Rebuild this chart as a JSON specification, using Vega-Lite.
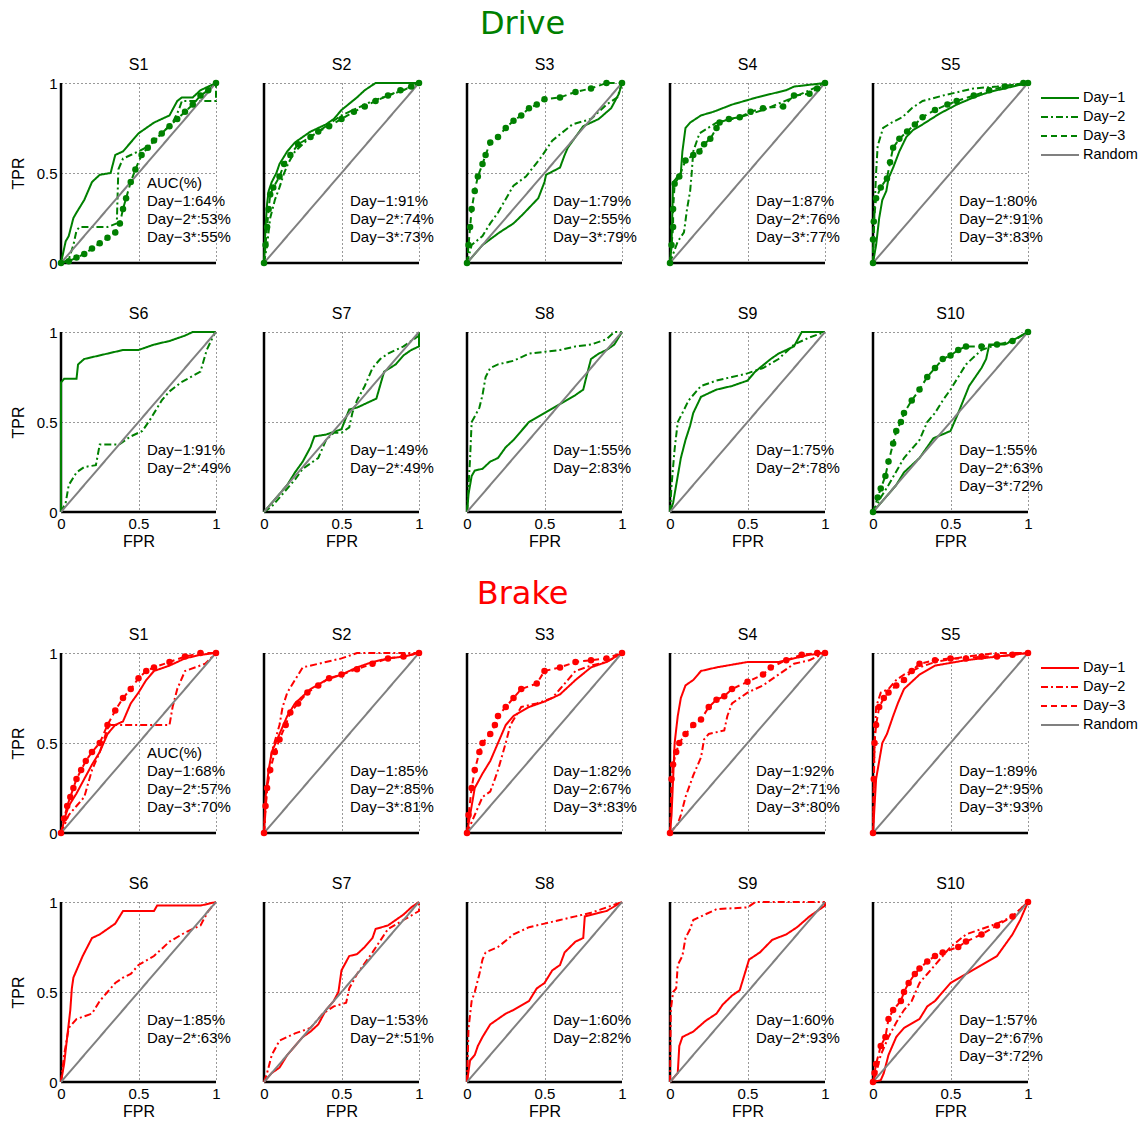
{
"padding": {"left": 10, "top": 8, "right": 5, "bottom": 5},
"config": {
  "font": "Liberation Sans",
  "view": {"stroke": null},
  "axis": {"grid": true, "gridDash": [1, 3], "gridColor": "#333", "gridWidth": 1, "domain": false, "ticks": false, "format": "~g", "labelFlush": false, "labelFontSize": 15, "labelFont": "Liberation Sans", "titleFont": "Liberation Sans", "titleFontSize": 16, "titleFontWeight": "normal", "labelColor": "#000", "titleColor": "#000", "labelPadding": 4},
  "axisY": {"titlePadding": 10},
  "axisX": {"titlePadding": 2},
  "header": {"labelFontSize": 16, "labelFont": "Liberation Sans", "labelColor": "#000"},
  "legend": {"symbolType": "stroke", "symbolSize": 1444, "symbolStrokeWidth": 2, "labelFontSize": 14.5, "labelFont": "Liberation Sans", "labelColor": "#000", "clipHeight": 16, "rowPadding": 3, "labelOffset": 3, "offset": -10, "padding": 7}
},
"resolve": {"scale": {"color": "independent", "strokeDash": "independent"}, "legend": {"color": "independent", "strokeDash": "independent"}},
"spacing": 29,
"datasets": {
"drive": [
{"p":"S1","d":"1","x":0,"y":0},{"p":"S1","d":"1","x":0.03,"y":0.12},{"p":"S1","d":"1","x":0.05,"y":0.15},{"p":"S1","d":"1","x":0.08,"y":0.25},{"p":"S1","d":"1","x":0.1,"y":0.28},{"p":"S1","d":"1","x":0.15,"y":0.35},{"p":"S1","d":"1","x":0.2,"y":0.45},{"p":"S1","d":"1","x":0.25,"y":0.49},{"p":"S1","d":"1","x":0.32,"y":0.5},{"p":"S1","d":"1","x":0.35,"y":0.6},{"p":"S1","d":"1","x":0.4,"y":0.62},{"p":"S1","d":"1","x":0.45,"y":0.67},{"p":"S1","d":"1","x":0.5,"y":0.72},{"p":"S1","d":"1","x":0.6,"y":0.78},{"p":"S1","d":"1","x":0.65,"y":0.8},{"p":"S1","d":"1","x":0.7,"y":0.82},{"p":"S1","d":"1","x":0.75,"y":0.9},{"p":"S1","d":"1","x":0.78,"y":0.92},{"p":"S1","d":"1","x":0.85,"y":0.92},{"p":"S1","d":"1","x":0.9,"y":0.96},{"p":"S1","d":"1","x":0.95,"y":0.98},{"p":"S1","d":"1","x":1,"y":1},
{"p":"S1","d":"2","x":0,"y":0},{"p":"S1","d":"2","x":0.05,"y":0.02},{"p":"S1","d":"2","x":0.08,"y":0.1},{"p":"S1","d":"2","x":0.1,"y":0.18},{"p":"S1","d":"2","x":0.12,"y":0.2},{"p":"S1","d":"2","x":0.3,"y":0.2},{"p":"S1","d":"2","x":0.36,"y":0.22},{"p":"S1","d":"2","x":0.37,"y":0.52},{"p":"S1","d":"2","x":0.4,"y":0.58},{"p":"S1","d":"2","x":0.45,"y":0.6},{"p":"S1","d":"2","x":0.57,"y":0.65},{"p":"S1","d":"2","x":0.65,"y":0.72},{"p":"S1","d":"2","x":0.72,"y":0.78},{"p":"S1","d":"2","x":0.76,"y":0.85},{"p":"S1","d":"2","x":0.78,"y":0.9},{"p":"S1","d":"2","x":1,"y":0.9},{"p":"S1","d":"2","x":1,"y":1},
{"p":"S1","d":"3","x":0,"y":0},{"p":"S1","d":"3","x":0.05,"y":0.01},{"p":"S1","d":"3","x":0.1,"y":0.03},{"p":"S1","d":"3","x":0.15,"y":0.05},{"p":"S1","d":"3","x":0.2,"y":0.08},{"p":"S1","d":"3","x":0.25,"y":0.11},{"p":"S1","d":"3","x":0.3,"y":0.14},{"p":"S1","d":"3","x":0.35,"y":0.17},{"p":"S1","d":"3","x":0.38,"y":0.22},{"p":"S1","d":"3","x":0.4,"y":0.3},{"p":"S1","d":"3","x":0.42,"y":0.36},{"p":"S1","d":"3","x":0.45,"y":0.45},{"p":"S1","d":"3","x":0.48,"y":0.52},{"p":"S1","d":"3","x":0.52,"y":0.6},{"p":"S1","d":"3","x":0.56,"y":0.64},{"p":"S1","d":"3","x":0.6,"y":0.68},{"p":"S1","d":"3","x":0.65,"y":0.72},{"p":"S1","d":"3","x":0.7,"y":0.76},{"p":"S1","d":"3","x":0.75,"y":0.8},{"p":"S1","d":"3","x":0.8,"y":0.84},{"p":"S1","d":"3","x":0.85,"y":0.88},{"p":"S1","d":"3","x":0.9,"y":0.93},{"p":"S1","d":"3","x":0.95,"y":0.96},{"p":"S1","d":"3","x":1,"y":1},
{"p":"S2","d":"1","x":0,"y":0},{"p":"S2","d":"1","x":0.01,"y":0.2},{"p":"S2","d":"1","x":0.02,"y":0.33},{"p":"S2","d":"1","x":0.03,"y":0.4},{"p":"S2","d":"1","x":0.05,"y":0.45},{"p":"S2","d":"1","x":0.08,"y":0.5},{"p":"S2","d":"1","x":0.1,"y":0.55},{"p":"S2","d":"1","x":0.15,"y":0.62},{"p":"S2","d":"1","x":0.2,"y":0.67},{"p":"S2","d":"1","x":0.3,"y":0.73},{"p":"S2","d":"1","x":0.4,"y":0.77},{"p":"S2","d":"1","x":0.45,"y":0.8},{"p":"S2","d":"1","x":0.5,"y":0.85},{"p":"S2","d":"1","x":0.6,"y":0.92},{"p":"S2","d":"1","x":0.65,"y":0.96},{"p":"S2","d":"1","x":0.72,"y":1},{"p":"S2","d":"1","x":1,"y":1},
{"p":"S2","d":"2","x":0,"y":0},{"p":"S2","d":"2","x":0.02,"y":0.1},{"p":"S2","d":"2","x":0.04,"y":0.25},{"p":"S2","d":"2","x":0.07,"y":0.35},{"p":"S2","d":"2","x":0.1,"y":0.42},{"p":"S2","d":"2","x":0.13,"y":0.5},{"p":"S2","d":"2","x":0.16,"y":0.56},{"p":"S2","d":"2","x":0.2,"y":0.62},{"p":"S2","d":"2","x":0.3,"y":0.7},{"p":"S2","d":"2","x":0.4,"y":0.76},{"p":"S2","d":"2","x":0.5,"y":0.82},{"p":"S2","d":"2","x":0.6,"y":0.86},{"p":"S2","d":"2","x":0.7,"y":0.9},{"p":"S2","d":"2","x":0.8,"y":0.93},{"p":"S2","d":"2","x":0.9,"y":0.96},{"p":"S2","d":"2","x":1,"y":1},
{"p":"S2","d":"3","x":0,"y":0},{"p":"S2","d":"3","x":0.01,"y":0.1},{"p":"S2","d":"3","x":0.02,"y":0.2},{"p":"S2","d":"3","x":0.03,"y":0.3},{"p":"S2","d":"3","x":0.04,"y":0.38},{"p":"S2","d":"3","x":0.06,"y":0.42},{"p":"S2","d":"3","x":0.1,"y":0.48},{"p":"S2","d":"3","x":0.13,"y":0.55},{"p":"S2","d":"3","x":0.17,"y":0.6},{"p":"S2","d":"3","x":0.22,"y":0.66},{"p":"S2","d":"3","x":0.3,"y":0.7},{"p":"S2","d":"3","x":0.35,"y":0.73},{"p":"S2","d":"3","x":0.42,"y":0.76},{"p":"S2","d":"3","x":0.5,"y":0.8},{"p":"S2","d":"3","x":0.58,"y":0.84},{"p":"S2","d":"3","x":0.65,"y":0.87},{"p":"S2","d":"3","x":0.72,"y":0.9},{"p":"S2","d":"3","x":0.8,"y":0.93},{"p":"S2","d":"3","x":0.88,"y":0.96},{"p":"S2","d":"3","x":0.95,"y":0.98},{"p":"S2","d":"3","x":1,"y":1},
{"p":"S3","d":"1","x":0,"y":0},{"p":"S3","d":"1","x":0.05,"y":0.05},{"p":"S3","d":"1","x":0.1,"y":0.1},{"p":"S3","d":"1","x":0.21,"y":0.17},{"p":"S3","d":"1","x":0.3,"y":0.22},{"p":"S3","d":"1","x":0.36,"y":0.27},{"p":"S3","d":"1","x":0.46,"y":0.36},{"p":"S3","d":"1","x":0.5,"y":0.45},{"p":"S3","d":"1","x":0.51,"y":0.49},{"p":"S3","d":"1","x":0.6,"y":0.53},{"p":"S3","d":"1","x":0.63,"y":0.6},{"p":"S3","d":"1","x":0.65,"y":0.64},{"p":"S3","d":"1","x":0.7,"y":0.7},{"p":"S3","d":"1","x":0.75,"y":0.76},{"p":"S3","d":"1","x":0.85,"y":0.8},{"p":"S3","d":"1","x":0.93,"y":0.86},{"p":"S3","d":"1","x":0.98,"y":0.94},{"p":"S3","d":"1","x":1,"y":1},
{"p":"S3","d":"2","x":0,"y":0},{"p":"S3","d":"2","x":0.03,"y":0.1},{"p":"S3","d":"2","x":0.1,"y":0.15},{"p":"S3","d":"2","x":0.15,"y":0.22},{"p":"S3","d":"2","x":0.2,"y":0.28},{"p":"S3","d":"2","x":0.3,"y":0.43},{"p":"S3","d":"2","x":0.38,"y":0.48},{"p":"S3","d":"2","x":0.48,"y":0.59},{"p":"S3","d":"2","x":0.55,"y":0.68},{"p":"S3","d":"2","x":0.68,"y":0.77},{"p":"S3","d":"2","x":0.8,"y":0.8},{"p":"S3","d":"2","x":0.9,"y":0.88},{"p":"S3","d":"2","x":0.97,"y":0.92},{"p":"S3","d":"2","x":1,"y":1},
{"p":"S3","d":"3","x":0,"y":0},{"p":"S3","d":"3","x":0.01,"y":0.1},{"p":"S3","d":"3","x":0.02,"y":0.2},{"p":"S3","d":"3","x":0.03,"y":0.3},{"p":"S3","d":"3","x":0.05,"y":0.4},{"p":"S3","d":"3","x":0.07,"y":0.48},{"p":"S3","d":"3","x":0.1,"y":0.55},{"p":"S3","d":"3","x":0.12,"y":0.6},{"p":"S3","d":"3","x":0.15,"y":0.67},{"p":"S3","d":"3","x":0.2,"y":0.7},{"p":"S3","d":"3","x":0.25,"y":0.75},{"p":"S3","d":"3","x":0.3,"y":0.79},{"p":"S3","d":"3","x":0.35,"y":0.82},{"p":"S3","d":"3","x":0.4,"y":0.86},{"p":"S3","d":"3","x":0.45,"y":0.88},{"p":"S3","d":"3","x":0.5,"y":0.91},{"p":"S3","d":"3","x":0.6,"y":0.92},{"p":"S3","d":"3","x":0.7,"y":0.95},{"p":"S3","d":"3","x":0.8,"y":0.97},{"p":"S3","d":"3","x":0.9,"y":1},{"p":"S3","d":"3","x":1,"y":1},
{"p":"S4","d":"1","x":0,"y":0},{"p":"S4","d":"1","x":0.01,"y":0.1},{"p":"S4","d":"1","x":0.02,"y":0.45},{"p":"S4","d":"1","x":0.07,"y":0.5},{"p":"S4","d":"1","x":0.08,"y":0.62},{"p":"S4","d":"1","x":0.1,"y":0.75},{"p":"S4","d":"1","x":0.13,"y":0.78},{"p":"S4","d":"1","x":0.2,"y":0.82},{"p":"S4","d":"1","x":0.28,"y":0.84},{"p":"S4","d":"1","x":0.4,"y":0.88},{"p":"S4","d":"1","x":0.56,"y":0.92},{"p":"S4","d":"1","x":0.75,"y":0.96},{"p":"S4","d":"1","x":0.8,"y":0.98},{"p":"S4","d":"1","x":0.9,"y":0.99},{"p":"S4","d":"1","x":1,"y":1},
{"p":"S4","d":"2","x":0,"y":0},{"p":"S4","d":"2","x":0.02,"y":0.05},{"p":"S4","d":"2","x":0.05,"y":0.12},{"p":"S4","d":"2","x":0.09,"y":0.17},{"p":"S4","d":"2","x":0.11,"y":0.3},{"p":"S4","d":"2","x":0.13,"y":0.4},{"p":"S4","d":"2","x":0.14,"y":0.5},{"p":"S4","d":"2","x":0.15,"y":0.62},{"p":"S4","d":"2","x":0.19,"y":0.72},{"p":"S4","d":"2","x":0.3,"y":0.78},{"p":"S4","d":"2","x":0.45,"y":0.81},{"p":"S4","d":"2","x":0.6,"y":0.85},{"p":"S4","d":"2","x":0.77,"y":0.91},{"p":"S4","d":"2","x":0.9,"y":0.96},{"p":"S4","d":"2","x":1,"y":1},
{"p":"S4","d":"3","x":0,"y":0},{"p":"S4","d":"3","x":0.01,"y":0.1},{"p":"S4","d":"3","x":0.02,"y":0.2},{"p":"S4","d":"3","x":0.02,"y":0.3},{"p":"S4","d":"3","x":0.03,"y":0.44},{"p":"S4","d":"3","x":0.06,"y":0.48},{"p":"S4","d":"3","x":0.1,"y":0.57},{"p":"S4","d":"3","x":0.15,"y":0.6},{"p":"S4","d":"3","x":0.19,"y":0.62},{"p":"S4","d":"3","x":0.22,"y":0.66},{"p":"S4","d":"3","x":0.26,"y":0.69},{"p":"S4","d":"3","x":0.3,"y":0.75},{"p":"S4","d":"3","x":0.32,"y":0.78},{"p":"S4","d":"3","x":0.38,"y":0.8},{"p":"S4","d":"3","x":0.45,"y":0.81},{"p":"S4","d":"3","x":0.52,"y":0.84},{"p":"S4","d":"3","x":0.6,"y":0.86},{"p":"S4","d":"3","x":0.73,"y":0.87},{"p":"S4","d":"3","x":0.8,"y":0.93},{"p":"S4","d":"3","x":0.9,"y":0.94},{"p":"S4","d":"3","x":0.95,"y":0.97},{"p":"S4","d":"3","x":1,"y":1},
{"p":"S5","d":"1","x":0,"y":0},{"p":"S5","d":"1","x":0.02,"y":0.1},{"p":"S5","d":"1","x":0.04,"y":0.25},{"p":"S5","d":"1","x":0.06,"y":0.35},{"p":"S5","d":"1","x":0.086,"y":0.4},{"p":"S5","d":"1","x":0.1,"y":0.47},{"p":"S5","d":"1","x":0.13,"y":0.53},{"p":"S5","d":"1","x":0.17,"y":0.62},{"p":"S5","d":"1","x":0.215,"y":0.7},{"p":"S5","d":"1","x":0.26,"y":0.74},{"p":"S5","d":"1","x":0.32,"y":0.77},{"p":"S5","d":"1","x":0.43,"y":0.83},{"p":"S5","d":"1","x":0.54,"y":0.88},{"p":"S5","d":"1","x":0.65,"y":0.92},{"p":"S5","d":"1","x":0.75,"y":0.95},{"p":"S5","d":"1","x":0.85,"y":0.97},{"p":"S5","d":"1","x":1,"y":1},
{"p":"S5","d":"2","x":0,"y":0},{"p":"S5","d":"2","x":0.01,"y":0.3},{"p":"S5","d":"2","x":0.02,"y":0.5},{"p":"S5","d":"2","x":0.03,"y":0.65},{"p":"S5","d":"2","x":0.065,"y":0.75},{"p":"S5","d":"2","x":0.12,"y":0.78},{"p":"S5","d":"2","x":0.19,"y":0.81},{"p":"S5","d":"2","x":0.25,"y":0.86},{"p":"S5","d":"2","x":0.32,"y":0.9},{"p":"S5","d":"2","x":0.45,"y":0.93},{"p":"S5","d":"2","x":0.55,"y":0.95},{"p":"S5","d":"2","x":0.65,"y":0.97},{"p":"S5","d":"2","x":0.8,"y":0.98},{"p":"S5","d":"2","x":1,"y":1},
{"p":"S5","d":"3","x":0,"y":0},{"p":"S5","d":"3","x":0,"y":0.13},{"p":"S5","d":"3","x":0.005,"y":0.23},{"p":"S5","d":"3","x":0.02,"y":0.36},{"p":"S5","d":"3","x":0.05,"y":0.42},{"p":"S5","d":"3","x":0.09,"y":0.47},{"p":"S5","d":"3","x":0.11,"y":0.56},{"p":"S5","d":"3","x":0.13,"y":0.64},{"p":"S5","d":"3","x":0.17,"y":0.69},{"p":"S5","d":"3","x":0.22,"y":0.73},{"p":"S5","d":"3","x":0.27,"y":0.77},{"p":"S5","d":"3","x":0.32,"y":0.81},{"p":"S5","d":"3","x":0.4,"y":0.85},{"p":"S5","d":"3","x":0.48,"y":0.88},{"p":"S5","d":"3","x":0.54,"y":0.9},{"p":"S5","d":"3","x":0.65,"y":0.93},{"p":"S5","d":"3","x":0.75,"y":0.96},{"p":"S5","d":"3","x":0.85,"y":0.98},{"p":"S5","d":"3","x":0.97,"y":1},{"p":"S5","d":"3","x":1,"y":1},
{"p":"S6","d":"1","x":0,"y":0},{"p":"S6","d":"1","x":0,"y":0.72},{"p":"S6","d":"1","x":0.02,"y":0.74},{"p":"S6","d":"1","x":0.1,"y":0.74},{"p":"S6","d":"1","x":0.11,"y":0.82},{"p":"S6","d":"1","x":0.15,"y":0.85},{"p":"S6","d":"1","x":0.2,"y":0.86},{"p":"S6","d":"1","x":0.3,"y":0.88},{"p":"S6","d":"1","x":0.4,"y":0.9},{"p":"S6","d":"1","x":0.5,"y":0.9},{"p":"S6","d":"1","x":0.6,"y":0.93},{"p":"S6","d":"1","x":0.7,"y":0.95},{"p":"S6","d":"1","x":0.8,"y":0.98},{"p":"S6","d":"1","x":0.85,"y":1},{"p":"S6","d":"1","x":1,"y":1},
{"p":"S6","d":"2","x":0,"y":0},{"p":"S6","d":"2","x":0.03,"y":0.05},{"p":"S6","d":"2","x":0.05,"y":0.15},{"p":"S6","d":"2","x":0.1,"y":0.22},{"p":"S6","d":"2","x":0.15,"y":0.25},{"p":"S6","d":"2","x":0.225,"y":0.26},{"p":"S6","d":"2","x":0.25,"y":0.375},{"p":"S6","d":"2","x":0.375,"y":0.375},{"p":"S6","d":"2","x":0.45,"y":0.42},{"p":"S6","d":"2","x":0.525,"y":0.45},{"p":"S6","d":"2","x":0.58,"y":0.52},{"p":"S6","d":"2","x":0.65,"y":0.62},{"p":"S6","d":"2","x":0.7,"y":0.67},{"p":"S6","d":"2","x":0.775,"y":0.72},{"p":"S6","d":"2","x":0.9,"y":0.78},{"p":"S6","d":"2","x":0.94,"y":0.9},{"p":"S6","d":"2","x":0.99,"y":0.99},{"p":"S6","d":"2","x":1,"y":1},
{"p":"S7","d":"1","x":0,"y":0},{"p":"S7","d":"1","x":0.05,"y":0.05},{"p":"S7","d":"1","x":0.1,"y":0.1},{"p":"S7","d":"1","x":0.15,"y":0.15},{"p":"S7","d":"1","x":0.2,"y":0.22},{"p":"S7","d":"1","x":0.25,"y":0.28},{"p":"S7","d":"1","x":0.3,"y":0.36},{"p":"S7","d":"1","x":0.325,"y":0.42},{"p":"S7","d":"1","x":0.4,"y":0.43},{"p":"S7","d":"1","x":0.5,"y":0.46},{"p":"S7","d":"1","x":0.55,"y":0.57},{"p":"S7","d":"1","x":0.6,"y":0.58},{"p":"S7","d":"1","x":0.65,"y":0.6},{"p":"S7","d":"1","x":0.725,"y":0.63},{"p":"S7","d":"1","x":0.775,"y":0.78},{"p":"S7","d":"1","x":0.85,"y":0.82},{"p":"S7","d":"1","x":0.9,"y":0.87},{"p":"S7","d":"1","x":0.95,"y":0.9},{"p":"S7","d":"1","x":1,"y":0.92},{"p":"S7","d":"1","x":1,"y":1},
{"p":"S7","d":"2","x":0,"y":0},{"p":"S7","d":"2","x":0.05,"y":0.03},{"p":"S7","d":"2","x":0.1,"y":0.08},{"p":"S7","d":"2","x":0.15,"y":0.13},{"p":"S7","d":"2","x":0.2,"y":0.18},{"p":"S7","d":"2","x":0.25,"y":0.24},{"p":"S7","d":"2","x":0.3,"y":0.27},{"p":"S7","d":"2","x":0.35,"y":0.3},{"p":"S7","d":"2","x":0.4,"y":0.4},{"p":"S7","d":"2","x":0.45,"y":0.44},{"p":"S7","d":"2","x":0.5,"y":0.44},{"p":"S7","d":"2","x":0.55,"y":0.47},{"p":"S7","d":"2","x":0.57,"y":0.55},{"p":"S7","d":"2","x":0.6,"y":0.62},{"p":"S7","d":"2","x":0.65,"y":0.7},{"p":"S7","d":"2","x":0.7,"y":0.8},{"p":"S7","d":"2","x":0.75,"y":0.85},{"p":"S7","d":"2","x":0.8,"y":0.88},{"p":"S7","d":"2","x":0.9,"y":0.92},{"p":"S7","d":"2","x":1,"y":0.98},{"p":"S7","d":"2","x":1,"y":1},
{"p":"S8","d":"1","x":0,"y":0},{"p":"S8","d":"1","x":0.01,"y":0.1},{"p":"S8","d":"1","x":0.03,"y":0.2},{"p":"S8","d":"1","x":0.05,"y":0.23},{"p":"S8","d":"1","x":0.1,"y":0.24},{"p":"S8","d":"1","x":0.15,"y":0.28},{"p":"S8","d":"1","x":0.2,"y":0.3},{"p":"S8","d":"1","x":0.25,"y":0.36},{"p":"S8","d":"1","x":0.3,"y":0.4},{"p":"S8","d":"1","x":0.35,"y":0.45},{"p":"S8","d":"1","x":0.4,"y":0.5},{"p":"S8","d":"1","x":0.5,"y":0.55},{"p":"S8","d":"1","x":0.6,"y":0.6},{"p":"S8","d":"1","x":0.7,"y":0.65},{"p":"S8","d":"1","x":0.75,"y":0.68},{"p":"S8","d":"1","x":0.77,"y":0.75},{"p":"S8","d":"1","x":0.8,"y":0.85},{"p":"S8","d":"1","x":0.85,"y":0.88},{"p":"S8","d":"1","x":0.9,"y":0.9},{"p":"S8","d":"1","x":0.95,"y":0.93},{"p":"S8","d":"1","x":1,"y":1},
{"p":"S8","d":"2","x":0,"y":0},{"p":"S8","d":"2","x":0.01,"y":0.15},{"p":"S8","d":"2","x":0.02,"y":0.3},{"p":"S8","d":"2","x":0.03,"y":0.5},{"p":"S8","d":"2","x":0.05,"y":0.53},{"p":"S8","d":"2","x":0.08,"y":0.58},{"p":"S8","d":"2","x":0.1,"y":0.65},{"p":"S8","d":"2","x":0.12,"y":0.75},{"p":"S8","d":"2","x":0.15,"y":0.8},{"p":"S8","d":"2","x":0.2,"y":0.82},{"p":"S8","d":"2","x":0.3,"y":0.84},{"p":"S8","d":"2","x":0.4,"y":0.88},{"p":"S8","d":"2","x":0.5,"y":0.89},{"p":"S8","d":"2","x":0.6,"y":0.9},{"p":"S8","d":"2","x":0.7,"y":0.92},{"p":"S8","d":"2","x":0.8,"y":0.93},{"p":"S8","d":"2","x":0.9,"y":0.96},{"p":"S8","d":"2","x":0.95,"y":1},{"p":"S8","d":"2","x":1,"y":1},
{"p":"S9","d":"1","x":0,"y":0},{"p":"S9","d":"1","x":0.02,"y":0.05},{"p":"S9","d":"1","x":0.05,"y":0.2},{"p":"S9","d":"1","x":0.07,"y":0.3},{"p":"S9","d":"1","x":0.1,"y":0.4},{"p":"S9","d":"1","x":0.13,"y":0.48},{"p":"S9","d":"1","x":0.15,"y":0.55},{"p":"S9","d":"1","x":0.2,"y":0.64},{"p":"S9","d":"1","x":0.25,"y":0.66},{"p":"S9","d":"1","x":0.3,"y":0.68},{"p":"S9","d":"1","x":0.4,"y":0.7},{"p":"S9","d":"1","x":0.5,"y":0.73},{"p":"S9","d":"1","x":0.55,"y":0.78},{"p":"S9","d":"1","x":0.65,"y":0.85},{"p":"S9","d":"1","x":0.7,"y":0.88},{"p":"S9","d":"1","x":0.8,"y":0.92},{"p":"S9","d":"1","x":0.85,"y":1},{"p":"S9","d":"1","x":1,"y":1},
{"p":"S9","d":"2","x":0,"y":0},{"p":"S9","d":"2","x":0.01,"y":0.15},{"p":"S9","d":"2","x":0.03,"y":0.35},{"p":"S9","d":"2","x":0.05,"y":0.5},{"p":"S9","d":"2","x":0.08,"y":0.55},{"p":"S9","d":"2","x":0.12,"y":0.62},{"p":"S9","d":"2","x":0.2,"y":0.7},{"p":"S9","d":"2","x":0.3,"y":0.73},{"p":"S9","d":"2","x":0.4,"y":0.75},{"p":"S9","d":"2","x":0.5,"y":0.77},{"p":"S9","d":"2","x":0.6,"y":0.8},{"p":"S9","d":"2","x":0.7,"y":0.85},{"p":"S9","d":"2","x":0.8,"y":0.93},{"p":"S9","d":"2","x":0.9,"y":0.97},{"p":"S9","d":"2","x":1,"y":1},
{"p":"S10","d":"1","x":0,"y":0},{"p":"S10","d":"1","x":0.05,"y":0.05},{"p":"S10","d":"1","x":0.1,"y":0.1},{"p":"S10","d":"1","x":0.15,"y":0.15},{"p":"S10","d":"1","x":0.2,"y":0.22},{"p":"S10","d":"1","x":0.3,"y":0.3},{"p":"S10","d":"1","x":0.39,"y":0.41},{"p":"S10","d":"1","x":0.5,"y":0.45},{"p":"S10","d":"1","x":0.55,"y":0.55},{"p":"S10","d":"1","x":0.62,"y":0.7},{"p":"S10","d":"1","x":0.7,"y":0.8},{"p":"S10","d":"1","x":0.73,"y":0.85},{"p":"S10","d":"1","x":0.75,"y":0.93},{"p":"S10","d":"1","x":0.85,"y":0.93},{"p":"S10","d":"1","x":1,"y":1},
{"p":"S10","d":"2","x":0,"y":0},{"p":"S10","d":"2","x":0.05,"y":0.08},{"p":"S10","d":"2","x":0.1,"y":0.15},{"p":"S10","d":"2","x":0.2,"y":0.3},{"p":"S10","d":"2","x":0.3,"y":0.4},{"p":"S10","d":"2","x":0.35,"y":0.5},{"p":"S10","d":"2","x":0.4,"y":0.55},{"p":"S10","d":"2","x":0.45,"y":0.62},{"p":"S10","d":"2","x":0.5,"y":0.68},{"p":"S10","d":"2","x":0.55,"y":0.75},{"p":"S10","d":"2","x":0.6,"y":0.82},{"p":"S10","d":"2","x":0.7,"y":0.9},{"p":"S10","d":"2","x":0.8,"y":0.93},{"p":"S10","d":"2","x":0.9,"y":0.95},{"p":"S10","d":"2","x":1,"y":1},
{"p":"S10","d":"3","x":0,"y":0},{"p":"S10","d":"3","x":0.03,"y":0.08},{"p":"S10","d":"3","x":0.05,"y":0.13},{"p":"S10","d":"3","x":0.08,"y":0.2},{"p":"S10","d":"3","x":0.1,"y":0.28},{"p":"S10","d":"3","x":0.13,"y":0.38},{"p":"S10","d":"3","x":0.15,"y":0.45},{"p":"S10","d":"3","x":0.18,"y":0.5},{"p":"S10","d":"3","x":0.2,"y":0.55},{"p":"S10","d":"3","x":0.25,"y":0.62},{"p":"S10","d":"3","x":0.3,"y":0.68},{"p":"S10","d":"3","x":0.35,"y":0.75},{"p":"S10","d":"3","x":0.4,"y":0.8},{"p":"S10","d":"3","x":0.45,"y":0.85},{"p":"S10","d":"3","x":0.5,"y":0.87},{"p":"S10","d":"3","x":0.55,"y":0.9},{"p":"S10","d":"3","x":0.6,"y":0.92},{"p":"S10","d":"3","x":0.7,"y":0.92},{"p":"S10","d":"3","x":0.8,"y":0.93},{"p":"S10","d":"3","x":0.9,"y":0.95},{"p":"S10","d":"3","x":1,"y":1},
{"p":"S1","d":"R","x":0,"y":0},{"p":"S1","d":"R","x":1,"y":1},{"p":"S2","d":"R","x":0,"y":0},{"p":"S2","d":"R","x":1,"y":1},{"p":"S3","d":"R","x":0,"y":0},{"p":"S3","d":"R","x":1,"y":1},{"p":"S4","d":"R","x":0,"y":0},{"p":"S4","d":"R","x":1,"y":1},{"p":"S5","d":"R","x":0,"y":0},{"p":"S5","d":"R","x":1,"y":1},{"p":"S6","d":"R","x":0,"y":0},{"p":"S6","d":"R","x":1,"y":1},{"p":"S7","d":"R","x":0,"y":0},{"p":"S7","d":"R","x":1,"y":1},{"p":"S8","d":"R","x":0,"y":0},{"p":"S8","d":"R","x":1,"y":1},{"p":"S9","d":"R","x":0,"y":0},{"p":"S9","d":"R","x":1,"y":1},{"p":"S10","d":"R","x":0,"y":0},{"p":"S10","d":"R","x":1,"y":1},
{"p":"S1","k":0,"t":"AUC(%)"},{"p":"S1","k":1,"t":"Day−1:64%"},{"p":"S1","k":2,"t":"Day−2*:53%"},{"p":"S1","k":3,"t":"Day−3*:55%"},
{"p":"S2","k":1,"t":"Day−1:91%"},{"p":"S2","k":2,"t":"Day−2*:74%"},{"p":"S2","k":3,"t":"Day−3*:73%"},
{"p":"S3","k":1,"t":"Day−1:79%"},{"p":"S3","k":2,"t":"Day−2:55%"},{"p":"S3","k":3,"t":"Day−3*:79%"},
{"p":"S4","k":1,"t":"Day−1:87%"},{"p":"S4","k":2,"t":"Day−2*:76%"},{"p":"S4","k":3,"t":"Day−3*:77%"},
{"p":"S5","k":1,"t":"Day−1:80%"},{"p":"S5","k":2,"t":"Day−2*:91%"},{"p":"S5","k":3,"t":"Day−3*:83%"},
{"p":"S6","k":1,"t":"Day−1:91%"},{"p":"S6","k":2,"t":"Day−2*:49%"},
{"p":"S7","k":1,"t":"Day−1:49%"},{"p":"S7","k":2,"t":"Day−2*:49%"},
{"p":"S8","k":1,"t":"Day−1:55%"},{"p":"S8","k":2,"t":"Day−2:83%"},
{"p":"S9","k":1,"t":"Day−1:75%"},{"p":"S9","k":2,"t":"Day−2*:78%"},
{"p":"S10","k":1,"t":"Day−1:55%"},{"p":"S10","k":2,"t":"Day−2*:63%"},{"p":"S10","k":3,"t":"Day−3*:72%"}
],
"brake": [
{"p":"S1","d":"1","x":0,"y":0},{"p":"S1","d":"1","x":0.03,"y":0.1},{"p":"S1","d":"1","x":0.05,"y":0.15},{"p":"S1","d":"1","x":0.1,"y":0.22},{"p":"S1","d":"1","x":0.15,"y":0.3},{"p":"S1","d":"1","x":0.2,"y":0.38},{"p":"S1","d":"1","x":0.25,"y":0.45},{"p":"S1","d":"1","x":0.3,"y":0.55},{"p":"S1","d":"1","x":0.35,"y":0.6},{"p":"S1","d":"1","x":0.4,"y":0.62},{"p":"S1","d":"1","x":0.45,"y":0.72},{"p":"S1","d":"1","x":0.5,"y":0.78},{"p":"S1","d":"1","x":0.55,"y":0.85},{"p":"S1","d":"1","x":0.6,"y":0.9},{"p":"S1","d":"1","x":0.7,"y":0.93},{"p":"S1","d":"1","x":0.8,"y":0.97},{"p":"S1","d":"1","x":0.9,"y":0.99},{"p":"S1","d":"1","x":1,"y":1},
{"p":"S1","d":"2","x":0,"y":0},{"p":"S1","d":"2","x":0.05,"y":0.1},{"p":"S1","d":"2","x":0.1,"y":0.15},{"p":"S1","d":"2","x":0.15,"y":0.2},{"p":"S1","d":"2","x":0.2,"y":0.35},{"p":"S1","d":"2","x":0.25,"y":0.45},{"p":"S1","d":"2","x":0.3,"y":0.58},{"p":"S1","d":"2","x":0.32,"y":0.6},{"p":"S1","d":"2","x":0.7,"y":0.6},{"p":"S1","d":"2","x":0.72,"y":0.7},{"p":"S1","d":"2","x":0.75,"y":0.8},{"p":"S1","d":"2","x":0.8,"y":0.9},{"p":"S1","d":"2","x":0.93,"y":0.94},{"p":"S1","d":"2","x":1,"y":1},
{"p":"S1","d":"3","x":0,"y":0},{"p":"S1","d":"3","x":0.02,"y":0.08},{"p":"S1","d":"3","x":0.04,"y":0.15},{"p":"S1","d":"3","x":0.06,"y":0.2},{"p":"S1","d":"3","x":0.08,"y":0.25},{"p":"S1","d":"3","x":0.1,"y":0.3},{"p":"S1","d":"3","x":0.13,"y":0.35},{"p":"S1","d":"3","x":0.16,"y":0.4},{"p":"S1","d":"3","x":0.2,"y":0.45},{"p":"S1","d":"3","x":0.25,"y":0.5},{"p":"S1","d":"3","x":0.3,"y":0.6},{"p":"S1","d":"3","x":0.35,"y":0.68},{"p":"S1","d":"3","x":0.4,"y":0.75},{"p":"S1","d":"3","x":0.45,"y":0.8},{"p":"S1","d":"3","x":0.5,"y":0.86},{"p":"S1","d":"3","x":0.55,"y":0.9},{"p":"S1","d":"3","x":0.6,"y":0.92},{"p":"S1","d":"3","x":0.7,"y":0.95},{"p":"S1","d":"3","x":0.8,"y":0.98},{"p":"S1","d":"3","x":0.9,"y":1},{"p":"S1","d":"3","x":1,"y":1},
{"p":"S2","d":"1","x":0,"y":0},{"p":"S2","d":"1","x":0.01,"y":0.2},{"p":"S2","d":"1","x":0.03,"y":0.35},{"p":"S2","d":"1","x":0.05,"y":0.45},{"p":"S2","d":"1","x":0.1,"y":0.55},{"p":"S2","d":"1","x":0.15,"y":0.65},{"p":"S2","d":"1","x":0.2,"y":0.72},{"p":"S2","d":"1","x":0.3,"y":0.8},{"p":"S2","d":"1","x":0.4,"y":0.85},{"p":"S2","d":"1","x":0.5,"y":0.88},{"p":"S2","d":"1","x":0.6,"y":0.92},{"p":"S2","d":"1","x":0.7,"y":0.95},{"p":"S2","d":"1","x":0.8,"y":0.97},{"p":"S2","d":"1","x":0.9,"y":0.98},{"p":"S2","d":"1","x":1,"y":1},
{"p":"S2","d":"2","x":0,"y":0},{"p":"S2","d":"2","x":0.02,"y":0.25},{"p":"S2","d":"2","x":0.05,"y":0.45},{"p":"S2","d":"2","x":0.1,"y":0.6},{"p":"S2","d":"2","x":0.12,"y":0.7},{"p":"S2","d":"2","x":0.15,"y":0.78},{"p":"S2","d":"2","x":0.2,"y":0.85},{"p":"S2","d":"2","x":0.25,"y":0.92},{"p":"S2","d":"2","x":0.35,"y":0.94},{"p":"S2","d":"2","x":0.5,"y":0.97},{"p":"S2","d":"2","x":0.6,"y":1},{"p":"S2","d":"2","x":1,"y":1},
{"p":"S2","d":"3","x":0,"y":0},{"p":"S2","d":"3","x":0.01,"y":0.15},{"p":"S2","d":"3","x":0.02,"y":0.25},{"p":"S2","d":"3","x":0.04,"y":0.35},{"p":"S2","d":"3","x":0.07,"y":0.45},{"p":"S2","d":"3","x":0.1,"y":0.52},{"p":"S2","d":"3","x":0.14,"y":0.6},{"p":"S2","d":"3","x":0.17,"y":0.67},{"p":"S2","d":"3","x":0.22,"y":0.72},{"p":"S2","d":"3","x":0.28,"y":0.78},{"p":"S2","d":"3","x":0.35,"y":0.82},{"p":"S2","d":"3","x":0.42,"y":0.86},{"p":"S2","d":"3","x":0.5,"y":0.88},{"p":"S2","d":"3","x":0.6,"y":0.91},{"p":"S2","d":"3","x":0.7,"y":0.94},{"p":"S2","d":"3","x":0.8,"y":0.97},{"p":"S2","d":"3","x":0.9,"y":0.98},{"p":"S2","d":"3","x":1,"y":1},
{"p":"S3","d":"1","x":0,"y":0},{"p":"S3","d":"1","x":0.02,"y":0.1},{"p":"S3","d":"1","x":0.05,"y":0.25},{"p":"S3","d":"1","x":0.1,"y":0.33},{"p":"S3","d":"1","x":0.15,"y":0.4},{"p":"S3","d":"1","x":0.2,"y":0.5},{"p":"S3","d":"1","x":0.25,"y":0.6},{"p":"S3","d":"1","x":0.3,"y":0.65},{"p":"S3","d":"1","x":0.4,"y":0.7},{"p":"S3","d":"1","x":0.5,"y":0.73},{"p":"S3","d":"1","x":0.6,"y":0.77},{"p":"S3","d":"1","x":0.7,"y":0.85},{"p":"S3","d":"1","x":0.8,"y":0.92},{"p":"S3","d":"1","x":0.9,"y":0.95},{"p":"S3","d":"1","x":1,"y":1},
{"p":"S3","d":"2","x":0,"y":0},{"p":"S3","d":"2","x":0.05,"y":0.1},{"p":"S3","d":"2","x":0.1,"y":0.2},{"p":"S3","d":"2","x":0.15,"y":0.23},{"p":"S3","d":"2","x":0.18,"y":0.3},{"p":"S3","d":"2","x":0.2,"y":0.35},{"p":"S3","d":"2","x":0.25,"y":0.5},{"p":"S3","d":"2","x":0.28,"y":0.6},{"p":"S3","d":"2","x":0.35,"y":0.7},{"p":"S3","d":"2","x":0.45,"y":0.72},{"p":"S3","d":"2","x":0.55,"y":0.75},{"p":"S3","d":"2","x":0.6,"y":0.8},{"p":"S3","d":"2","x":0.7,"y":0.9},{"p":"S3","d":"2","x":0.8,"y":0.93},{"p":"S3","d":"2","x":0.9,"y":0.95},{"p":"S3","d":"2","x":1,"y":1},
{"p":"S3","d":"3","x":0,"y":0},{"p":"S3","d":"3","x":0.01,"y":0.1},{"p":"S3","d":"3","x":0.03,"y":0.25},{"p":"S3","d":"3","x":0.05,"y":0.35},{"p":"S3","d":"3","x":0.08,"y":0.45},{"p":"S3","d":"3","x":0.1,"y":0.5},{"p":"S3","d":"3","x":0.15,"y":0.55},{"p":"S3","d":"3","x":0.18,"y":0.6},{"p":"S3","d":"3","x":0.2,"y":0.65},{"p":"S3","d":"3","x":0.25,"y":0.7},{"p":"S3","d":"3","x":0.3,"y":0.75},{"p":"S3","d":"3","x":0.35,"y":0.8},{"p":"S3","d":"3","x":0.45,"y":0.83},{"p":"S3","d":"3","x":0.5,"y":0.9},{"p":"S3","d":"3","x":0.6,"y":0.92},{"p":"S3","d":"3","x":0.7,"y":0.95},{"p":"S3","d":"3","x":0.8,"y":0.96},{"p":"S3","d":"3","x":0.9,"y":0.97},{"p":"S3","d":"3","x":1,"y":1},
{"p":"S4","d":"1","x":0,"y":0},{"p":"S4","d":"1","x":0.01,"y":0.1},{"p":"S4","d":"1","x":0.02,"y":0.3},{"p":"S4","d":"1","x":0.03,"y":0.5},{"p":"S4","d":"1","x":0.05,"y":0.65},{"p":"S4","d":"1","x":0.07,"y":0.75},{"p":"S4","d":"1","x":0.1,"y":0.82},{"p":"S4","d":"1","x":0.15,"y":0.85},{"p":"S4","d":"1","x":0.2,"y":0.9},{"p":"S4","d":"1","x":0.3,"y":0.92},{"p":"S4","d":"1","x":0.5,"y":0.95},{"p":"S4","d":"1","x":0.7,"y":0.95},{"p":"S4","d":"1","x":0.8,"y":0.97},{"p":"S4","d":"1","x":0.9,"y":0.99},{"p":"S4","d":"1","x":1,"y":1},
{"p":"S4","d":"2","x":0,"y":0},{"p":"S4","d":"2","x":0.05,"y":0.05},{"p":"S4","d":"2","x":0.07,"y":0.1},{"p":"S4","d":"2","x":0.1,"y":0.2},{"p":"S4","d":"2","x":0.15,"y":0.32},{"p":"S4","d":"2","x":0.2,"y":0.42},{"p":"S4","d":"2","x":0.22,"y":0.52},{"p":"S4","d":"2","x":0.25,"y":0.55},{"p":"S4","d":"2","x":0.35,"y":0.57},{"p":"S4","d":"2","x":0.37,"y":0.65},{"p":"S4","d":"2","x":0.4,"y":0.72},{"p":"S4","d":"2","x":0.5,"y":0.78},{"p":"S4","d":"2","x":0.6,"y":0.82},{"p":"S4","d":"2","x":0.7,"y":0.88},{"p":"S4","d":"2","x":0.8,"y":0.94},{"p":"S4","d":"2","x":0.9,"y":0.96},{"p":"S4","d":"2","x":1,"y":1},
{"p":"S4","d":"3","x":0,"y":0},{"p":"S4","d":"3","x":0.01,"y":0.3},{"p":"S4","d":"3","x":0.02,"y":0.38},{"p":"S4","d":"3","x":0.04,"y":0.45},{"p":"S4","d":"3","x":0.06,"y":0.5},{"p":"S4","d":"3","x":0.1,"y":0.55},{"p":"S4","d":"3","x":0.15,"y":0.6},{"p":"S4","d":"3","x":0.2,"y":0.63},{"p":"S4","d":"3","x":0.25,"y":0.7},{"p":"S4","d":"3","x":0.3,"y":0.74},{"p":"S4","d":"3","x":0.35,"y":0.76},{"p":"S4","d":"3","x":0.4,"y":0.8},{"p":"S4","d":"3","x":0.5,"y":0.84},{"p":"S4","d":"3","x":0.6,"y":0.88},{"p":"S4","d":"3","x":0.65,"y":0.92},{"p":"S4","d":"3","x":0.75,"y":0.96},{"p":"S4","d":"3","x":0.85,"y":0.99},{"p":"S4","d":"3","x":0.95,"y":1},{"p":"S4","d":"3","x":1,"y":1},
{"p":"S5","d":"1","x":0,"y":0},{"p":"S5","d":"1","x":0.01,"y":0.15},{"p":"S5","d":"1","x":0.02,"y":0.3},{"p":"S5","d":"1","x":0.04,"y":0.4},{"p":"S5","d":"1","x":0.06,"y":0.5},{"p":"S5","d":"1","x":0.09,"y":0.55},{"p":"S5","d":"1","x":0.13,"y":0.65},{"p":"S5","d":"1","x":0.16,"y":0.72},{"p":"S5","d":"1","x":0.2,"y":0.8},{"p":"S5","d":"1","x":0.3,"y":0.88},{"p":"S5","d":"1","x":0.4,"y":0.93},{"p":"S5","d":"1","x":0.6,"y":0.96},{"p":"S5","d":"1","x":0.8,"y":0.98},{"p":"S5","d":"1","x":1,"y":1},
{"p":"S5","d":"2","x":0,"y":0},{"p":"S5","d":"2","x":0.01,"y":0.5},{"p":"S5","d":"2","x":0.02,"y":0.7},{"p":"S5","d":"2","x":0.05,"y":0.78},{"p":"S5","d":"2","x":0.1,"y":0.8},{"p":"S5","d":"2","x":0.15,"y":0.85},{"p":"S5","d":"2","x":0.2,"y":0.88},{"p":"S5","d":"2","x":0.3,"y":0.92},{"p":"S5","d":"2","x":0.4,"y":0.95},{"p":"S5","d":"2","x":0.6,"y":0.98},{"p":"S5","d":"2","x":0.8,"y":1},{"p":"S5","d":"2","x":1,"y":1},
{"p":"S5","d":"3","x":0,"y":0},{"p":"S5","d":"3","x":0.005,"y":0.3},{"p":"S5","d":"3","x":0.01,"y":0.5},{"p":"S5","d":"3","x":0.02,"y":0.6},{"p":"S5","d":"3","x":0.04,"y":0.7},{"p":"S5","d":"3","x":0.07,"y":0.75},{"p":"S5","d":"3","x":0.1,"y":0.78},{"p":"S5","d":"3","x":0.15,"y":0.82},{"p":"S5","d":"3","x":0.2,"y":0.85},{"p":"S5","d":"3","x":0.25,"y":0.9},{"p":"S5","d":"3","x":0.3,"y":0.94},{"p":"S5","d":"3","x":0.4,"y":0.96},{"p":"S5","d":"3","x":0.5,"y":0.97},{"p":"S5","d":"3","x":0.6,"y":0.97},{"p":"S5","d":"3","x":0.7,"y":0.98},{"p":"S5","d":"3","x":0.8,"y":0.98},{"p":"S5","d":"3","x":0.9,"y":0.99},{"p":"S5","d":"3","x":1,"y":1},
{"p":"S6","d":"1","x":0,"y":0},{"p":"S6","d":"1","x":0.02,"y":0.1},{"p":"S6","d":"1","x":0.04,"y":0.25},{"p":"S6","d":"1","x":0.06,"y":0.4},{"p":"S6","d":"1","x":0.07,"y":0.52},{"p":"S6","d":"1","x":0.08,"y":0.58},{"p":"S6","d":"1","x":0.1,"y":0.62},{"p":"S6","d":"1","x":0.14,"y":0.7},{"p":"S6","d":"1","x":0.17,"y":0.75},{"p":"S6","d":"1","x":0.2,"y":0.8},{"p":"S6","d":"1","x":0.25,"y":0.82},{"p":"S6","d":"1","x":0.3,"y":0.85},{"p":"S6","d":"1","x":0.35,"y":0.88},{"p":"S6","d":"1","x":0.4,"y":0.95},{"p":"S6","d":"1","x":0.6,"y":0.95},{"p":"S6","d":"1","x":0.62,"y":0.98},{"p":"S6","d":"1","x":0.9,"y":0.98},{"p":"S6","d":"1","x":1,"y":1},
{"p":"S6","d":"2","x":0,"y":0},{"p":"S6","d":"2","x":0.02,"y":0.15},{"p":"S6","d":"2","x":0.05,"y":0.3},{"p":"S6","d":"2","x":0.1,"y":0.35},{"p":"S6","d":"2","x":0.2,"y":0.38},{"p":"S6","d":"2","x":0.25,"y":0.45},{"p":"S6","d":"2","x":0.3,"y":0.5},{"p":"S6","d":"2","x":0.35,"y":0.55},{"p":"S6","d":"2","x":0.4,"y":0.58},{"p":"S6","d":"2","x":0.45,"y":0.6},{"p":"S6","d":"2","x":0.5,"y":0.65},{"p":"S6","d":"2","x":0.6,"y":0.7},{"p":"S6","d":"2","x":0.7,"y":0.78},{"p":"S6","d":"2","x":0.8,"y":0.83},{"p":"S6","d":"2","x":0.9,"y":0.87},{"p":"S6","d":"2","x":0.95,"y":0.95},{"p":"S6","d":"2","x":1,"y":1},
{"p":"S7","d":"1","x":0,"y":0},{"p":"S7","d":"1","x":0.05,"y":0.05},{"p":"S7","d":"1","x":0.1,"y":0.08},{"p":"S7","d":"1","x":0.15,"y":0.15},{"p":"S7","d":"1","x":0.2,"y":0.2},{"p":"S7","d":"1","x":0.25,"y":0.25},{"p":"S7","d":"1","x":0.3,"y":0.28},{"p":"S7","d":"1","x":0.35,"y":0.32},{"p":"S7","d":"1","x":0.4,"y":0.4},{"p":"S7","d":"1","x":0.45,"y":0.45},{"p":"S7","d":"1","x":0.48,"y":0.5},{"p":"S7","d":"1","x":0.5,"y":0.62},{"p":"S7","d":"1","x":0.55,"y":0.7},{"p":"S7","d":"1","x":0.6,"y":0.71},{"p":"S7","d":"1","x":0.65,"y":0.75},{"p":"S7","d":"1","x":0.7,"y":0.8},{"p":"S7","d":"1","x":0.72,"y":0.85},{"p":"S7","d":"1","x":0.8,"y":0.87},{"p":"S7","d":"1","x":0.9,"y":0.93},{"p":"S7","d":"1","x":0.95,"y":0.97},{"p":"S7","d":"1","x":1,"y":1},
{"p":"S7","d":"2","x":0,"y":0},{"p":"S7","d":"2","x":0.02,"y":0.05},{"p":"S7","d":"2","x":0.05,"y":0.15},{"p":"S7","d":"2","x":0.1,"y":0.23},{"p":"S7","d":"2","x":0.2,"y":0.27},{"p":"S7","d":"2","x":0.3,"y":0.3},{"p":"S7","d":"2","x":0.38,"y":0.38},{"p":"S7","d":"2","x":0.45,"y":0.42},{"p":"S7","d":"2","x":0.53,"y":0.44},{"p":"S7","d":"2","x":0.55,"y":0.52},{"p":"S7","d":"2","x":0.6,"y":0.6},{"p":"S7","d":"2","x":0.7,"y":0.72},{"p":"S7","d":"2","x":0.8,"y":0.85},{"p":"S7","d":"2","x":0.9,"y":0.9},{"p":"S7","d":"2","x":1,"y":0.95},{"p":"S7","d":"2","x":1,"y":1},
{"p":"S8","d":"1","x":0,"y":0},{"p":"S8","d":"1","x":0.02,"y":0.12},{"p":"S8","d":"1","x":0.05,"y":0.15},{"p":"S8","d":"1","x":0.07,"y":0.2},{"p":"S8","d":"1","x":0.1,"y":0.25},{"p":"S8","d":"1","x":0.15,"y":0.32},{"p":"S8","d":"1","x":0.2,"y":0.35},{"p":"S8","d":"1","x":0.25,"y":0.38},{"p":"S8","d":"1","x":0.3,"y":0.4},{"p":"S8","d":"1","x":0.4,"y":0.45},{"p":"S8","d":"1","x":0.45,"y":0.52},{"p":"S8","d":"1","x":0.5,"y":0.55},{"p":"S8","d":"1","x":0.55,"y":0.62},{"p":"S8","d":"1","x":0.6,"y":0.65},{"p":"S8","d":"1","x":0.63,"y":0.72},{"p":"S8","d":"1","x":0.7,"y":0.78},{"p":"S8","d":"1","x":0.75,"y":0.8},{"p":"S8","d":"1","x":0.76,"y":0.92},{"p":"S8","d":"1","x":0.9,"y":0.95},{"p":"S8","d":"1","x":1,"y":1},
{"p":"S8","d":"2","x":0,"y":0},{"p":"S8","d":"2","x":0.01,"y":0.3},{"p":"S8","d":"2","x":0.03,"y":0.45},{"p":"S8","d":"2","x":0.05,"y":0.5},{"p":"S8","d":"2","x":0.08,"y":0.6},{"p":"S8","d":"2","x":0.1,"y":0.68},{"p":"S8","d":"2","x":0.12,"y":0.72},{"p":"S8","d":"2","x":0.2,"y":0.75},{"p":"S8","d":"2","x":0.3,"y":0.82},{"p":"S8","d":"2","x":0.4,"y":0.86},{"p":"S8","d":"2","x":0.5,"y":0.88},{"p":"S8","d":"2","x":0.6,"y":0.9},{"p":"S8","d":"2","x":0.7,"y":0.92},{"p":"S8","d":"2","x":0.8,"y":0.94},{"p":"S8","d":"2","x":0.9,"y":0.97},{"p":"S8","d":"2","x":1,"y":1},
{"p":"S9","d":"1","x":0,"y":0},{"p":"S9","d":"1","x":0.05,"y":0.05},{"p":"S9","d":"1","x":0.06,"y":0.2},{"p":"S9","d":"1","x":0.08,"y":0.25},{"p":"S9","d":"1","x":0.15,"y":0.28},{"p":"S9","d":"1","x":0.23,"y":0.34},{"p":"S9","d":"1","x":0.3,"y":0.38},{"p":"S9","d":"1","x":0.34,"y":0.43},{"p":"S9","d":"1","x":0.4,"y":0.48},{"p":"S9","d":"1","x":0.45,"y":0.51},{"p":"S9","d":"1","x":0.51,"y":0.68},{"p":"S9","d":"1","x":0.58,"y":0.72},{"p":"S9","d":"1","x":0.66,"y":0.79},{"p":"S9","d":"1","x":0.75,"y":0.82},{"p":"S9","d":"1","x":0.82,"y":0.86},{"p":"S9","d":"1","x":0.9,"y":0.92},{"p":"S9","d":"1","x":1,"y":0.98},{"p":"S9","d":"1","x":1,"y":1},
{"p":"S9","d":"2","x":0,"y":0},{"p":"S9","d":"2","x":0.005,"y":0.4},{"p":"S9","d":"2","x":0.02,"y":0.5},{"p":"S9","d":"2","x":0.04,"y":0.52},{"p":"S9","d":"2","x":0.05,"y":0.65},{"p":"S9","d":"2","x":0.08,"y":0.7},{"p":"S9","d":"2","x":0.1,"y":0.8},{"p":"S9","d":"2","x":0.13,"y":0.85},{"p":"S9","d":"2","x":0.15,"y":0.9},{"p":"S9","d":"2","x":0.2,"y":0.92},{"p":"S9","d":"2","x":0.3,"y":0.96},{"p":"S9","d":"2","x":0.5,"y":0.97},{"p":"S9","d":"2","x":0.55,"y":1},{"p":"S9","d":"2","x":1,"y":1},
{"p":"S10","d":"1","x":0,"y":0},{"p":"S10","d":"1","x":0.05,"y":0.01},{"p":"S10","d":"1","x":0.07,"y":0.05},{"p":"S10","d":"1","x":0.1,"y":0.15},{"p":"S10","d":"1","x":0.15,"y":0.25},{"p":"S10","d":"1","x":0.2,"y":0.3},{"p":"S10","d":"1","x":0.3,"y":0.35},{"p":"S10","d":"1","x":0.35,"y":0.42},{"p":"S10","d":"1","x":0.4,"y":0.45},{"p":"S10","d":"1","x":0.45,"y":0.5},{"p":"S10","d":"1","x":0.5,"y":0.55},{"p":"S10","d":"1","x":0.6,"y":0.6},{"p":"S10","d":"1","x":0.7,"y":0.65},{"p":"S10","d":"1","x":0.8,"y":0.7},{"p":"S10","d":"1","x":0.9,"y":0.82},{"p":"S10","d":"1","x":0.95,"y":0.9},{"p":"S10","d":"1","x":1,"y":1},
{"p":"S10","d":"2","x":0,"y":0},{"p":"S10","d":"2","x":0.02,"y":0.05},{"p":"S10","d":"2","x":0.05,"y":0.15},{"p":"S10","d":"2","x":0.1,"y":0.25},{"p":"S10","d":"2","x":0.15,"y":0.33},{"p":"S10","d":"2","x":0.2,"y":0.4},{"p":"S10","d":"2","x":0.25,"y":0.45},{"p":"S10","d":"2","x":0.3,"y":0.55},{"p":"S10","d":"2","x":0.35,"y":0.6},{"p":"S10","d":"2","x":0.4,"y":0.65},{"p":"S10","d":"2","x":0.45,"y":0.7},{"p":"S10","d":"2","x":0.5,"y":0.75},{"p":"S10","d":"2","x":0.6,"y":0.82},{"p":"S10","d":"2","x":0.7,"y":0.85},{"p":"S10","d":"2","x":0.8,"y":0.88},{"p":"S10","d":"2","x":0.9,"y":0.92},{"p":"S10","d":"2","x":1,"y":1},
{"p":"S10","d":"3","x":0,"y":0},{"p":"S10","d":"3","x":0.01,"y":0.05},{"p":"S10","d":"3","x":0.02,"y":0.1},{"p":"S10","d":"3","x":0.05,"y":0.2},{"p":"S10","d":"3","x":0.08,"y":0.25},{"p":"S10","d":"3","x":0.1,"y":0.35},{"p":"S10","d":"3","x":0.13,"y":0.4},{"p":"S10","d":"3","x":0.18,"y":0.45},{"p":"S10","d":"3","x":0.2,"y":0.5},{"p":"S10","d":"3","x":0.23,"y":0.55},{"p":"S10","d":"3","x":0.27,"y":0.6},{"p":"S10","d":"3","x":0.3,"y":0.63},{"p":"S10","d":"3","x":0.35,"y":0.67},{"p":"S10","d":"3","x":0.4,"y":0.7},{"p":"S10","d":"3","x":0.45,"y":0.72},{"p":"S10","d":"3","x":0.55,"y":0.75},{"p":"S10","d":"3","x":0.6,"y":0.78},{"p":"S10","d":"3","x":0.7,"y":0.82},{"p":"S10","d":"3","x":0.8,"y":0.87},{"p":"S10","d":"3","x":0.9,"y":0.92},{"p":"S10","d":"3","x":1,"y":1},
{"p":"S1","d":"R","x":0,"y":0},{"p":"S1","d":"R","x":1,"y":1},{"p":"S2","d":"R","x":0,"y":0},{"p":"S2","d":"R","x":1,"y":1},{"p":"S3","d":"R","x":0,"y":0},{"p":"S3","d":"R","x":1,"y":1},{"p":"S4","d":"R","x":0,"y":0},{"p":"S4","d":"R","x":1,"y":1},{"p":"S5","d":"R","x":0,"y":0},{"p":"S5","d":"R","x":1,"y":1},{"p":"S6","d":"R","x":0,"y":0},{"p":"S6","d":"R","x":1,"y":1},{"p":"S7","d":"R","x":0,"y":0},{"p":"S7","d":"R","x":1,"y":1},{"p":"S8","d":"R","x":0,"y":0},{"p":"S8","d":"R","x":1,"y":1},{"p":"S9","d":"R","x":0,"y":0},{"p":"S9","d":"R","x":1,"y":1},{"p":"S10","d":"R","x":0,"y":0},{"p":"S10","d":"R","x":1,"y":1},
{"p":"S1","k":0,"t":"AUC(%)"},{"p":"S1","k":1,"t":"Day−1:68%"},{"p":"S1","k":2,"t":"Day−2*:57%"},{"p":"S1","k":3,"t":"Day−3*:70%"},
{"p":"S2","k":1,"t":"Day−1:85%"},{"p":"S2","k":2,"t":"Day−2*:85%"},{"p":"S2","k":3,"t":"Day−3*:81%"},
{"p":"S3","k":1,"t":"Day−1:82%"},{"p":"S3","k":2,"t":"Day−2:67%"},{"p":"S3","k":3,"t":"Day−3*:83%"},
{"p":"S4","k":1,"t":"Day−1:92%"},{"p":"S4","k":2,"t":"Day−2*:71%"},{"p":"S4","k":3,"t":"Day−3*:80%"},
{"p":"S5","k":1,"t":"Day−1:89%"},{"p":"S5","k":2,"t":"Day−2*:95%"},{"p":"S5","k":3,"t":"Day−3*:93%"},
{"p":"S6","k":1,"t":"Day−1:85%"},{"p":"S6","k":2,"t":"Day−2*:63%"},
{"p":"S7","k":1,"t":"Day−1:53%"},{"p":"S7","k":2,"t":"Day−2*:51%"},
{"p":"S8","k":1,"t":"Day−1:60%"},{"p":"S8","k":2,"t":"Day−2:82%"},
{"p":"S9","k":1,"t":"Day−1:60%"},{"p":"S9","k":2,"t":"Day−2*:93%"},
{"p":"S10","k":1,"t":"Day−1:57%"},{"p":"S10","k":2,"t":"Day−2*:67%"},{"p":"S10","k":3,"t":"Day−3*:72%"}
]
},
"vconcat": [
{
 "title": {"text": "Drive", "color": "#008000", "fontSize": 32, "font": "DejaVu Sans", "fontWeight": "normal", "anchor": "middle", "frame": "bounds", "dx": -55, "offset": 16},
 "data": {"name": "drive"},
 "bounds": "flush",
 "facet": {"field": "p", "type": "nominal", "sort": ["S1","S2","S3","S4","S5","S6","S7","S8","S9","S10"], "header": {"title": null, "labelPadding": 6}},
 "columns": 5,
 "spacing": {"row": 69, "column": 48},
 "spec": {
  "width": 155, "height": 180,
  "layer": [
   {"transform": [{"filter": "datum.d == 'R' && datum.x == 0"}], "mark": {"type": "rule", "color": "#000", "strokeWidth": 2.5},
    "encoding": {"x": {"field": "x", "type": "quantitative", "scale": {"domain": [0, 1], "nice": false}, "axis": {"title": "FPR", "values": [0, 0.5, 1]}}, "y": {"datum": 0}, "y2": {"datum": 1}}},
   {"transform": [{"filter": "datum.d == 'R' && datum.x == 0"}], "mark": {"type": "rule", "color": "#000", "strokeWidth": 2.5},
    "encoding": {"y": {"field": "y", "type": "quantitative", "scale": {"domain": [0, 1], "nice": false}, "axis": {"title": "TPR", "values": [0, 0.5, 1]}}, "x": {"datum": 0}, "x2": {"datum": 1}}},
   {"transform": [{"filter": "isValid(datum.d)"}], "mark": {"type": "line", "strokeWidth": 2, "clip": false},
    "encoding": {
     "x": {"field": "x", "type": "quantitative", "axis": {"title": "FPR", "values": [0, 0.5, 1]}},
     "y": {"field": "y", "type": "quantitative", "axis": {"title": "TPR", "values": [0, 0.5, 1]}},
     "color": {"field": "d", "type": "nominal", "scale": {"domain": ["1","2","3","R"], "range": ["#008000","#008000","#008000","#808080"]}, "legend": {"title": null, "labelExpr": "datum.label == 'R' ? 'Random' : 'Day−' + datum.label"}},
     "strokeDash": {"field": "d", "type": "nominal", "scale": {"domain": ["1","2","3","R"], "range": [[1,0],[7,3,2,3],[6,4],[1,0]]}, "legend": {"title": null, "labelExpr": "datum.label == 'R' ? 'Random' : 'Day−' + datum.label"}},
     "order": [{"field": "x", "type": "quantitative"}, {"field": "y", "type": "quantitative"}]
    }},
   {"transform": [{"filter": "datum.d == '3'"}], "mark": {"type": "point", "filled": true, "size": 42, "opacity": 1, "color": "#008000", "clip": false},
    "encoding": {"x": {"field": "x", "type": "quantitative", "axis": {"title": "FPR", "values": [0, 0.5, 1]}}, "y": {"field": "y", "type": "quantitative", "axis": {"title": "TPR", "values": [0, 0.5, 1]}}}},
   {"transform": [{"filter": "isValid(datum.t)"}], "mark": {"type": "text", "align": "left", "baseline": "middle", "fontSize": 15, "font": "Liberation Sans", "color": "#000"},
    "encoding": {"x": {"datum": 0.555}, "y": {"datum": 0.345}, "yOffset": {"field": "k", "type": "quantitative", "scale": {"domain": [0, 3], "range": [-18, 36]}}, "text": {"field": "t", "type": "nominal"}}}
  ]
 }
},
{
 "title": {"text": "Brake", "color": "#ff0000", "fontSize": 32, "font": "DejaVu Sans", "fontWeight": "normal", "anchor": "middle", "frame": "bounds", "dx": -55, "offset": 16},
 "data": {"name": "brake"},
 "bounds": "flush",
 "facet": {"field": "p", "type": "nominal", "sort": ["S1","S2","S3","S4","S5","S6","S7","S8","S9","S10"], "header": {"title": null, "labelPadding": 6}},
 "columns": 5,
 "spacing": {"row": 69, "column": 48},
 "spec": {
  "width": 155, "height": 180,
  "layer": [
   {"transform": [{"filter": "datum.d == 'R' && datum.x == 0"}], "mark": {"type": "rule", "color": "#000", "strokeWidth": 2.5},
    "encoding": {"x": {"field": "x", "type": "quantitative", "scale": {"domain": [0, 1], "nice": false}, "axis": {"title": "FPR", "values": [0, 0.5, 1]}}, "y": {"datum": 0}, "y2": {"datum": 1}}},
   {"transform": [{"filter": "datum.d == 'R' && datum.x == 0"}], "mark": {"type": "rule", "color": "#000", "strokeWidth": 2.5},
    "encoding": {"y": {"field": "y", "type": "quantitative", "scale": {"domain": [0, 1], "nice": false}, "axis": {"title": "TPR", "values": [0, 0.5, 1]}}, "x": {"datum": 0}, "x2": {"datum": 1}}},
   {"transform": [{"filter": "isValid(datum.d)"}], "mark": {"type": "line", "strokeWidth": 2, "clip": false},
    "encoding": {
     "x": {"field": "x", "type": "quantitative", "axis": {"title": "FPR", "values": [0, 0.5, 1]}},
     "y": {"field": "y", "type": "quantitative", "axis": {"title": "TPR", "values": [0, 0.5, 1]}},
     "color": {"field": "d", "type": "nominal", "scale": {"domain": ["1","2","3","R"], "range": ["#ff0000","#ff0000","#ff0000","#808080"]}, "legend": {"title": null, "labelExpr": "datum.label == 'R' ? 'Random' : 'Day−' + datum.label"}},
     "strokeDash": {"field": "d", "type": "nominal", "scale": {"domain": ["1","2","3","R"], "range": [[1,0],[7,3,2,3],[6,4],[1,0]]}, "legend": {"title": null, "labelExpr": "datum.label == 'R' ? 'Random' : 'Day−' + datum.label"}},
     "order": [{"field": "x", "type": "quantitative"}, {"field": "y", "type": "quantitative"}]
    }},
   {"transform": [{"filter": "datum.d == '3'"}], "mark": {"type": "point", "filled": true, "size": 42, "opacity": 1, "color": "#ff0000", "clip": false},
    "encoding": {"x": {"field": "x", "type": "quantitative", "axis": {"title": "FPR", "values": [0, 0.5, 1]}}, "y": {"field": "y", "type": "quantitative", "axis": {"title": "TPR", "values": [0, 0.5, 1]}}}},
   {"transform": [{"filter": "isValid(datum.t)"}], "mark": {"type": "text", "align": "left", "baseline": "middle", "fontSize": 15, "font": "Liberation Sans", "color": "#000"},
    "encoding": {"x": {"datum": 0.555}, "y": {"datum": 0.345}, "yOffset": {"field": "k", "type": "quantitative", "scale": {"domain": [0, 3], "range": [-18, 36]}}, "text": {"field": "t", "type": "nominal"}}}
  ]
 }
}
]
}
